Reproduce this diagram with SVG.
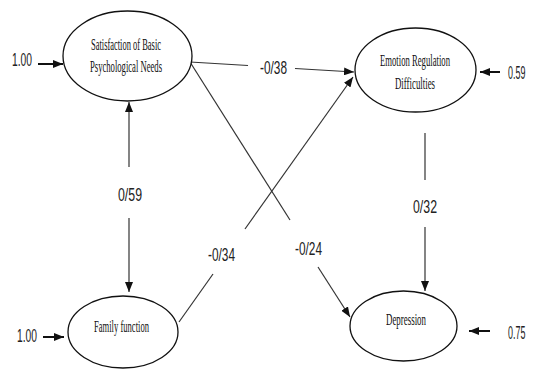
<svg xmlns="http://www.w3.org/2000/svg" width="533" height="369" viewBox="0 0 533 369">
<style>
.node ellipse{fill:#fff;stroke:#111;stroke-width:1.3}
.node text{font-family:"Liberation Serif","Times New Roman",serif;font-size:16.5px;fill:#111}
.num{font-family:"Liberation Sans Narrow","Liberation Sans",Arial,sans-serif;font-size:19px;fill:#222}
.numr{font-family:"Liberation Sans",Arial,sans-serif;font-size:19px;fill:#222}
.edge{stroke:#333;stroke-width:1.2;fill:none}
.res{stroke:#111;stroke-width:2;fill:none}
</style>
<defs>
<marker id="ah" markerUnits="userSpaceOnUse" markerWidth="10" markerHeight="8" refX="10" refY="4" orient="auto">
<path d="M0,0 L10,4 L0,8 Z" fill="#111"/>
</marker>
</defs>
<rect width="533" height="369" fill="#fff"/>
<g id="connectors">
<line class="edge" x1="190" y1="62" x2="248" y2="65.5"/>
<line class="edge" x1="295" y1="68.5" x2="354" y2="72" marker-end="url(#ah)"/>
<line class="edge" x1="190" y1="62" x2="290" y2="220"/>
<line class="edge" x1="318" y1="267" x2="350" y2="317" marker-end="url(#ah)"/>
<line class="edge" x1="179" y1="322" x2="213" y2="274"/>
<line class="edge" x1="245" y1="229" x2="353" y2="77" marker-end="url(#ah)"/>
<line class="edge" x1="129" y1="167" x2="129" y2="102" marker-end="url(#ah)"/>
<line class="edge" x1="129" y1="218" x2="129" y2="292" marker-end="url(#ah)"/>
<line class="edge" x1="425" y1="133" x2="425" y2="180"/>
<line class="edge" x1="425" y1="227" x2="425" y2="291" marker-end="url(#ah)"/>
<line class="res" x1="38" y1="64" x2="63" y2="64" marker-end="url(#ah)"/>
<line class="res" x1="43" y1="337" x2="64" y2="337" marker-end="url(#ah)"/>
<line class="res" x1="500" y1="72" x2="480" y2="72" marker-end="url(#ah)"/>
<line class="res" x1="490" y1="331" x2="469" y2="331" marker-end="url(#ah)"/>
</g>
<g id="labels">
<text class="num" x="12" y="66" textLength="20" lengthAdjust="spacingAndGlyphs">1.00</text>
<text class="num" x="17" y="342" textLength="20" lengthAdjust="spacingAndGlyphs">1.00</text>
<text class="numr" transform="translate(508,79) scale(0.47,1)">0.59</text>
<text class="numr" transform="translate(508,339) scale(0.47,1)">0.75</text>
<text class="num" x="260" y="74" textLength="27" lengthAdjust="spacingAndGlyphs">-0/38</text>
<text class="num" x="118" y="201" textLength="24" lengthAdjust="spacingAndGlyphs">0/59</text>
<text class="num" x="208" y="261" textLength="27" lengthAdjust="spacingAndGlyphs">-0/34</text>
<text class="num" x="295" y="255" textLength="27" lengthAdjust="spacingAndGlyphs">-0/24</text>
<text class="num" x="413" y="213" textLength="24" lengthAdjust="spacingAndGlyphs">0/32</text>
</g>
<g id="node-satisfaction" class="node">
<ellipse cx="127.5" cy="56" rx="64.5" ry="45"/>
<text x="91" y="50" textLength="70" lengthAdjust="spacingAndGlyphs">Satisfaction of Basic</text>
<text x="90" y="72" textLength="72" lengthAdjust="spacingAndGlyphs">Psychological Needs</text>
</g>
<g id="node-emotion" class="node">
<ellipse cx="415.5" cy="70" rx="60.5" ry="42"/>
<text x="380" y="66" textLength="70" lengthAdjust="spacingAndGlyphs">Emotion Regulation</text>
<text x="395" y="89" textLength="40" lengthAdjust="spacingAndGlyphs">Difficulties</text>
</g>
<g id="node-family" class="node">
<ellipse cx="123" cy="332" rx="55" ry="36"/>
<text x="94" y="332" textLength="55" lengthAdjust="spacingAndGlyphs">Family function</text>
</g>
<g id="node-depression" class="node">
<ellipse cx="403.5" cy="326" rx="53.5" ry="35"/>
<text x="386" y="325" textLength="40" lengthAdjust="spacingAndGlyphs">Depression</text>
</g>
</svg>
